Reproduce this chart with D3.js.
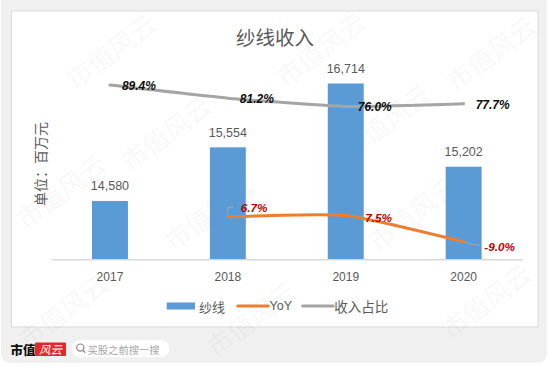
<!DOCTYPE html>
<html>
<head>
<meta charset="utf-8">
<script src="https://cdn.jsdelivr.net/npm/d3@7/dist/d3.min.js"></script>
<style>
  html, body { margin: 0; padding: 0; background: #ffffff; }
  svg { display: block; }
  text { font-family: "Liberation Sans", "Noto Sans CJK SC", sans-serif; }
</style>
</head>
<body>
<svg id="chart" width="550" height="367"></svg>
<script>
// ---- data ----
const years = ["2017", "2018", "2019", "2020"];
const revenue = [14580, 15554, 16714, 15202];      // 纱线 (百万元)
const yoy = [null, 6.7, 7.5, -9.0];                 // YoY %
const share = [89.4, 81.2, 76.0, 77.7];             // 收入占比 %
const legendLabels = ["纱线", "YoY", "收入占比"];
const titleText = "纱线收入";
const unitText = "单位：百万元";

// ---- layout / style constants ----
const BAR = "#5b9bd5", ORANGE = "#ed7d31", GRAY = "#a5a5a5", TXT = "#595959";
const svg = d3.select("#chart");

// background card
svg.append("rect").attr("x", 1).attr("y", -8).attr("width", 546).attr("height", 371)
  .attr("rx", 9).attr("fill", "#f0f0f0");
svg.append("rect").attr("x", 11.5).attr("y", 11).attr("width", 526.5).attr("height", 316)
  .attr("fill", "#ffffff").attr("stroke", "#d9d9d9").attr("stroke-width", 1);

// scales
const x = d3.scaleBand().domain(years).range([51, 522.6]).paddingInner(0.695).paddingOuter(0.3475);
const y = d3.scaleLinear().domain([13520, 17880]).range([259.3, 19.3]);
const y2 = d3.scaleLinear().domain([-20, 140]).range([259.3, 4.5]);
const cx = d => x(d) + x.bandwidth() / 2;

// watermark (faint)
const marks = [[110, 50], [320, 48], [490, 52], [165, 132], [385, 120], [60, 190],
               [208, 212], [412, 212], [62, 310], [250, 318], [485, 300]];
svg.append("g").selectAll("text").data(marks).join("text")
  .attr("transform", d => `translate(${d[0]},${d[1]}) rotate(-37)`)
  .attr("text-anchor", "middle").attr("dominant-baseline", "central")
  .attr("font-size", 26).attr("fill", "#000").attr("fill-opacity", 0.04)
  .style("font-family", "'Noto Sans CJK SC', sans-serif").text("市值风云");

// title
svg.append("text").attr("x", 275).attr("y", 36.5).attr("text-anchor", "middle")
  .attr("dominant-baseline", "central").attr("font-size", 19.5).attr("fill", TXT)
  .style("font-family", "'Noto Sans CJK SC', sans-serif").text(titleText);

// unit label
svg.append("text").attr("transform", "translate(39.5,164) rotate(-90)")
  .attr("text-anchor", "middle").attr("dominant-baseline", "central")
  .attr("font-size", 14).attr("fill", TXT)
  .style("font-family", "'Noto Sans CJK SC', sans-serif").text(unitText);

// bars
const rows = years.map((yr, i) => ({ yr, rev: revenue[i], yoy: yoy[i], share: share[i] }));
svg.append("g").selectAll("rect").data(rows).join("rect")
  .attr("x", d => x(d.yr)).attr("width", x.bandwidth())
  .attr("y", d => y(d.rev)).attr("height", d => y.range()[0] - y(d.rev))
  .attr("fill", BAR);

svg.append("g").selectAll("text").data(rows).join("text")
  .attr("x", d => cx(d.yr)).attr("y", d => y(d.rev) - 14.5)
  .attr("text-anchor", "middle").attr("dominant-baseline", "central")
  .attr("font-size", 12.5).attr("fill", TXT)
  .text(d => d3.format(",")(d.rev));

// x axis
const ax = svg.append("g").attr("transform", "translate(0,259.3)")
  .call(d3.axisBottom(x).tickSize(0).tickSizeOuter(0));
ax.select(".domain").attr("stroke", "#d9d9d9").attr("stroke-width", 1.5);
ax.selectAll(".tick text").attr("y", 17.5).attr("dy", "0.35em")
  .attr("font-size", 12).attr("fill", TXT)
  .style("font-family", "'Liberation Sans', sans-serif");

// lines
const curve = d3.curveCardinal.tension(0.5);
const shareLine = d3.line().x(d => cx(d.yr)).y(d => y2(d.share)).curve(curve);
const yoyLine = d3.line().x(d => cx(d.yr)).y(d => y2(d.yoy)).curve(curve);

svg.append("path").datum(rows).attr("d", shareLine).attr("fill", "none")
  .attr("stroke", GRAY).attr("stroke-width", 3).attr("stroke-linecap", "round");

// YoY leader lines
const yoyRows = rows.filter(d => d.yoy !== null);
const leaders = [
  (px, py) => `M${px},${py - 1}V${py - 9.5}H${px + 6}`,
  (px, py) => `M${px},${py}L${px + 16},${py + 1}`,
  (px, py) => `M${px},${py}Q${px + 8},${py + 3.5} ${px + 17},${py + 3.5}`
];
const yoyLabelOffsets = [[13, -9], [19.5, 1.7], [20.7, 5]];
svg.append("g").selectAll("path").data(yoyRows).join("path")
  .attr("d", (d, i) => leaders[i](cx(d.yr), y2(d.yoy)))
  .attr("fill", "none").attr("stroke", GRAY).attr("stroke-width", 1);

svg.append("path").datum(yoyRows).attr("d", yoyLine).attr("fill", "none")
  .attr("stroke", ORANGE).attr("stroke-width", 3).attr("stroke-linecap", "round");

// share labels
svg.append("g").selectAll("text").data(rows).join("text")
  .attr("x", d => cx(d.yr) + 12).attr("y", d => y2(d.share) + 0.8)
  .attr("dominant-baseline", "central")
  .attr("font-size", 12).attr("font-weight", "bold").attr("font-style", "italic")
  .attr("fill", "#0d0d0d")
  .text(d => d.share.toFixed(1) + "%");

// yoy labels
svg.append("g").selectAll("text").data(yoyRows).join("text")
  .attr("x", (d, i) => cx(d.yr) + yoyLabelOffsets[i][0])
  .attr("y", (d, i) => y2(d.yoy) + yoyLabelOffsets[i][1])
  .attr("dominant-baseline", "central")
  .attr("font-size", 11.7).attr("font-weight", "bold").attr("font-style", "italic")
  .attr("fill", "#c00000")
  .text(d => d.yoy.toFixed(1) + "%");

// legend
const lg = svg.append("g").attr("transform", "translate(0,306)");
lg.append("rect").attr("x", 166.7).attr("y", -3.5).attr("width", 28.3).attr("height", 7).attr("fill", BAR);
lg.append("text").attr("x", 199).attr("y", 0).attr("dominant-baseline", "central")
  .attr("font-size", 13).attr("fill", TXT).style("font-family", "'Noto Sans CJK SC', sans-serif")
  .text(legendLabels[0]);
lg.append("line").attr("x1", 237.7).attr("x2", 268.3).attr("y1", 0).attr("y2", 0)
  .attr("stroke", ORANGE).attr("stroke-width", 3).attr("stroke-linecap", "round");
lg.append("text").attr("x", 269.5).attr("y", 0).attr("dominant-baseline", "central")
  .attr("font-size", 12.5).attr("fill", TXT).text(legendLabels[1]);
lg.append("line").attr("x1", 302.7).attr("x2", 333.3).attr("y1", 0).attr("y2", 0)
  .attr("stroke", GRAY).attr("stroke-width", 3).attr("stroke-linecap", "round");
lg.append("text").attr("x", 334.3).attr("y", 0).attr("dominant-baseline", "central")
  .attr("font-size", 13.5).attr("fill", TXT).style("font-family", "'Noto Sans CJK SC', sans-serif")
  .text(legendLabels[2]);

// footer brand
const ft = svg.append("g");
ft.append("text").attr("x", 10.5).attr("y", 349.5).attr("dominant-baseline", "central")
  .attr("font-size", 12.5).attr("font-weight", 900).attr("fill", "#111")
  .style("font-family", "'Noto Sans CJK SC', serif").text("市值");
ft.append("rect").attr("x", 35).attr("y", 342.5).attr("width", 31).attr("height", 13.5)
  .attr("rx", 1).attr("fill", "#e5262b");
ft.append("text").attr("x", 50.5).attr("y", 349.3).attr("text-anchor", "middle")
  .attr("dominant-baseline", "central").attr("font-size", 11.5).attr("font-style", "italic")
  .attr("fill", "#fff").style("font-family", "'Noto Sans CJK SC', sans-serif").text("风云");
ft.append("rect").attr("x", 71.7).attr("y", 340).attr("width", 97.6).attr("height", 17.3)
  .attr("rx", 8.6).attr("fill", "#ffffff");
ft.append("circle").attr("cx", 80.3).attr("cy", 347.6).attr("r", 3.6)
  .attr("fill", "none").attr("stroke", "#888").attr("stroke-width", 1.2);
ft.append("line").attr("x1", 82.9).attr("y1", 350.2).attr("x2", 85.3).attr("y2", 352.6)
  .attr("stroke", "#888").attr("stroke-width", 1.3);
ft.append("text").attr("x", 87.5).attr("y", 349).attr("dominant-baseline", "central")
  .attr("font-size", 10.3).attr("fill", "#a6a6a6")
  .style("font-family", "'Noto Sans CJK SC', sans-serif").text("买股之前搜一搜");
</script>
</body>
</html>
